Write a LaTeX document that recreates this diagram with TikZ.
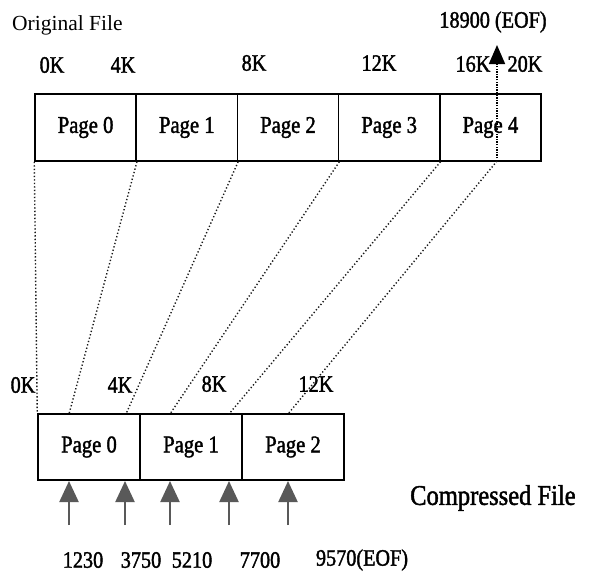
\documentclass[tikz,border=0pt]{standalone}
\usepackage{fontspec}
\setmainfont{Liberation Serif}[FakeStretch=0.86,FakeBold=1.6]
\newfontfamily\plainserif{Liberation Serif}
\usetikzlibrary{arrows.meta}
\begin{document}
\begin{tikzpicture}[x=1pt,y=-1pt,
  pagebox/.style={draw=black, line width=1.5pt, minimum width=101.2pt, minimum height=67pt, inner sep=0pt, font=\fontsize{24}{26}\selectfont},
  cpagebox/.style={pagebox, minimum width=102pt, minimum height=66pt},
  lbl/.style={inner sep=0pt, font=\fontsize{23.5}{26}\selectfont},
  mapline/.style={line width=1.4pt, black!90, dash pattern=on 1.3pt off 2.2pt},
  eofline/.style={line width=1.7pt, dash pattern=on 1.4pt off 1.2pt, -{Triangle[length=19pt,width=16pt]}},
  ptr/.style={line width=2.2pt, draw=black!65, -{Triangle[length=21pt,width=19pt,fill=black!65]}}
]
\useasboundingbox (0,0) rectangle (591,573);
% original file pages
\node[pagebox] (p0) at (85.6,127.5) {Page 0};
\node[pagebox] (p1) at (186.8,127.5) {Page 1};
\node[pagebox] (p2) at (288,127.5) {Page 2};
\node[pagebox] (p3) at (389.2,127.5) {Page 3};
\node[pagebox] (p4) at (490.4,127.5) {Page 4};
% compressed file pages
\node[cpagebox] (c0) at (89,447) {Page 0};
\node[cpagebox] (c1) at (191,447) {Page 1};
\node[cpagebox] (c2) at (293,447) {Page 2};
% titles
\node[inner sep=0pt, anchor=west, font=\plainserif\fontsize{21.5}{24}\selectfont] (otitle) at (12,25) {Original File};
\node[inner sep=0pt, anchor=west, font=\fontsize{28.5}{30}\selectfont] (ctitle) at (410,498) {Compressed File};
\node[lbl] (eoflbl) at (493,22) {18900 (EOF)};
% offsets of the original file
\node[lbl] (o0) at (52,65) {0K};
\node[lbl] (o4) at (123,65) {4K};
\node[lbl] (o8) at (254,63) {8K};
\node[lbl] (o12) at (379,63) {12K};
\node[lbl] (o16) at (473,64) {16K};
\node[lbl] (o20) at (525,64) {20K};
% offsets of the compressed file
\node[lbl] (k0) at (23,385) {0K};
\node[lbl] (k4) at (120,385) {4K};
\node[lbl] (k8) at (214,384) {8K};
\node[lbl] (k12) at (316,384) {12K};
% compressed byte positions
\node[lbl] (n1) at (83,560) {1230};
\node[lbl] (n2) at (141,560) {3750};
\node[lbl] (n3) at (192,560) {5210};
\node[lbl] (n4) at (260,560) {7700};
\node[lbl] (n5) at (362,560) {9570(EOF)};
% points
\coordinate (t5) at (497,161);
\coordinate (eoftip) at (497,45);
\coordinate (b1) at (69,414);
\coordinate (b2) at (126,414);
\coordinate (b3) at (170,414);
\coordinate (b4) at (229,414);
\coordinate (b5) at (288,414);
\coordinate (a1) at (69,525);
\coordinate (a2) at (125,525);
\coordinate (a3) at (170,525);
\coordinate (a4) at (229,525);
\coordinate (a5) at (288,525);
\coordinate (h1) at (69,481);
\coordinate (h2) at (125,481);
\coordinate (h3) at (170,481);
\coordinate (h4) at (229,481);
\coordinate (h5) at (288,481);
% mapping lines
\draw[mapline] (p0.south west) -- (c0.north west);
\draw[mapline] (p0.south east) -- (b1);
\draw[mapline] (p1.south east) -- (b2);
\draw[mapline] (p2.south east) -- (b3);
\draw[mapline] (p3.south east) -- (b4);
\draw[mapline] (t5) -- (b5);
% EOF of original file
\draw[eofline] (t5) -- (eoftip);
% pointers into compressed file
\draw[ptr] (a1) -- (h1);
\draw[ptr] (a2) -- (h2);
\draw[ptr] (a3) -- (h3);
\draw[ptr] (a4) -- (h4);
\draw[ptr] (a5) -- (h5);
\end{tikzpicture}
\end{document}
